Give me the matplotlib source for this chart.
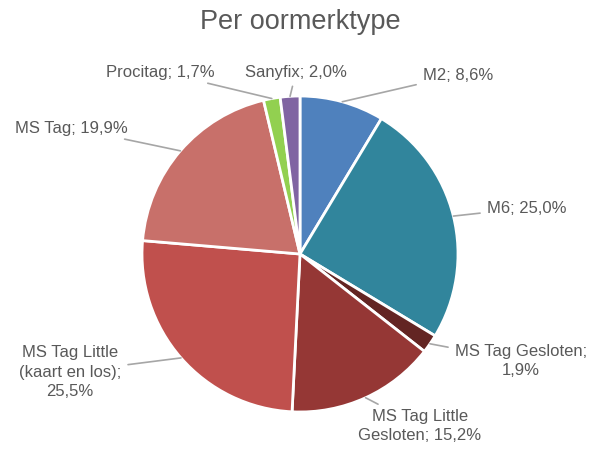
import matplotlib.pyplot as plt
import numpy as np

labels = ["M2", "M6", "MS Tag Gesloten", "MS Tag Little\nGesloten",
          "MS Tag Little\n(kaart en los)", "MS Tag", "Procitag", "Sanyfix"]
values = [8.6, 25.0, 1.9, 15.2, 25.5, 19.9, 1.7, 2.0]
colors = ["#4F81BD", "#31859C", "#632523", "#953735",
          "#C0504D", "#C8706A", "#92D050", "#8064A2"]
label_texts = ["M2; 8,6%", "M6; 25,0%", "MS Tag Gesloten;\n1,9%",
               "MS Tag Little\nGesloten; 15,2%", "MS Tag Little\n(kaart en los);\n25,5%",
               "MS Tag; 19,9%", "Procitag; 1,7%", "Sanyfix; 2,0%"]

W, H = 603, 454
CX, CY, R = 300, 254, 158

# label placement in image pixels (x, y from top), alignment
label_pos = [(423, 75, "left"), (487, 208, "left"), (521, 361, "center"),
             (420, 426, "center"), (70, 372, "center"), (128, 128, "right"),
             (215, 72, "right"), (296, 72, "center")]

fig = plt.figure(figsize=(W / 100, H / 100), dpi=100)
ax = fig.add_axes([(CX - R) / W, (H - CY - R) / H, 2 * R / W, 2 * R / H])

wedges, _ = ax.pie(values, colors=colors, startangle=90, counterclock=False,
                   radius=1.0, center=(0, 0), frame=True,
                   wedgeprops=dict(edgecolor="white", linewidth=2))
ax.set_xlim(-1, 1)
ax.set_ylim(-1, 1)
ax.axis("off")

font = "Liberation Sans"
for w, txt, (px, py, ha) in zip(wedges, label_texts, label_pos):
    ang = np.deg2rad((w.theta1 + w.theta2) / 2)
    xy = (np.cos(ang), np.sin(ang))
    tx = (px - CX) / R
    ty = (CY - py) / R
    ax.annotate(txt, xy=xy, xytext=(tx, ty), ha=ha, va="center",
                multialignment="center", fontsize=12, color="#595959",
                family=font, annotation_clip=False, linespacing=1.35,
                arrowprops=dict(arrowstyle="-", color="#A6A6A6", lw=1.2,
                                shrinkA=3, shrinkB=0))

fig.text(CX / W, 1 - 22 / H, "Per oormerktype", ha="center", va="center",
         fontsize=19.5, color="#595959", family=font)

fig.savefig("out.png", dpi=100)
